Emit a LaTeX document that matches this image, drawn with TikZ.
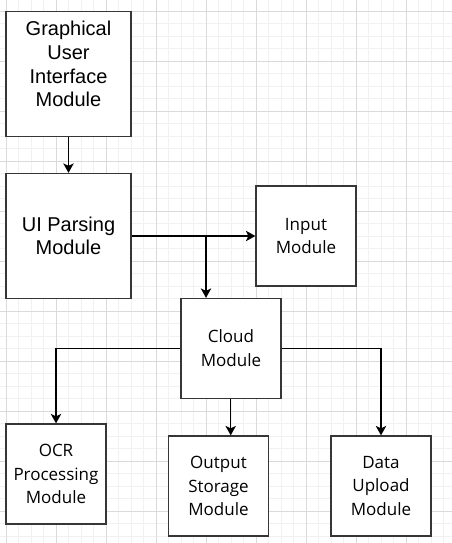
\documentclass[tikz,border=0pt]{standalone}
\usepackage{fontspec}
\setmainfont{Liberation Sans}
\newfontfamily\boxfont{Open Sans}
\usetikzlibrary{arrows.meta}
\definecolor{gridminor}{HTML}{F1F1F1}
\definecolor{gridmajor}{HTML}{DADADA}
\definecolor{boxline}{HTML}{363636}

\tikzset{
    bigbox/.style={draw=boxline, line width=1.3pt, fill=white, minimum width=125pt, minimum height=125pt,
        inner sep=0pt, align=center, font=\fontsize{20}{23.6}\selectfont},
    modbox/.style={draw=boxline, line width=1.3pt, fill=white, minimum width=100pt, minimum height=100pt,
        inner sep=0pt, align=center, font=\boxfont\fontsize{17}{23.8}\selectfont},
    flow/.style={line width=1.3pt, -{Stealth[length=9.5pt, width=10.5pt, inset=2.5pt]}}
}

\begin{document}
\begin{tikzpicture}[x=1pt, y=-1pt]
        \useasboundingbox (0,0) rectangle (452,543);

        % background grid
        \begin{scope}
        \clip (0,0) rectangle (452,543);
        \foreach \gx in {-6.25,6.25,...,460} \draw[gridminor, line width=0.8pt] (\gx,0) -- (\gx,543);
        \foreach \gy in {-1.25,11.25,...,550} \draw[gridminor, line width=0.8pt] (0,\gy) -- (452,\gy);
        \foreach \gx in {6.25,56.25,...,460} \draw[gridmajor, line width=0.8pt] (\gx,0) -- (\gx,543);
        \foreach \gy in {11.25,61.25,...,550} \draw[gridmajor, line width=0.8pt] (0,\gy) -- (452,\gy);
        \end{scope}

        \node[bigbox, label={[align=center, font=\fontsize{20}{23.6}\selectfont, yshift=9.5pt]center:Graphical\\User\\Interface\\Module}] (gui) at (68.5,73.75) {};
        \node[bigbox] (parser) at (68.5,236) {UI Parsing\\Module};
        \node[modbox] (input) at (306,236) {Input\\Module};
        \node[modbox] (cloud) at (231,348.5) {Cloud\\Module};
        \node[modbox] (ocr) at (56,474) {OCR\\Processing\\Module};
        \node[modbox] (storage) at (218.5,486) {Output\\Storage\\Module};
        \node[modbox] (upload) at (381,486) {Data\\Upload\\Module};

        \coordinate (split) at (206,236);
        \coordinate (drop) at (230.7,399);

        \draw[flow] (gui) -- (parser);
        \draw[flow] (parser.east) -- (input.west);
        \draw[flow] (split) -- (split |- cloud.north);
        \draw[flow] (cloud.west) -| (ocr.north);
        \draw[flow] (drop) -- (drop |- storage.north);
        \draw[flow] (cloud.east) -| (upload.north);
    \end{tikzpicture}
\end{document}
